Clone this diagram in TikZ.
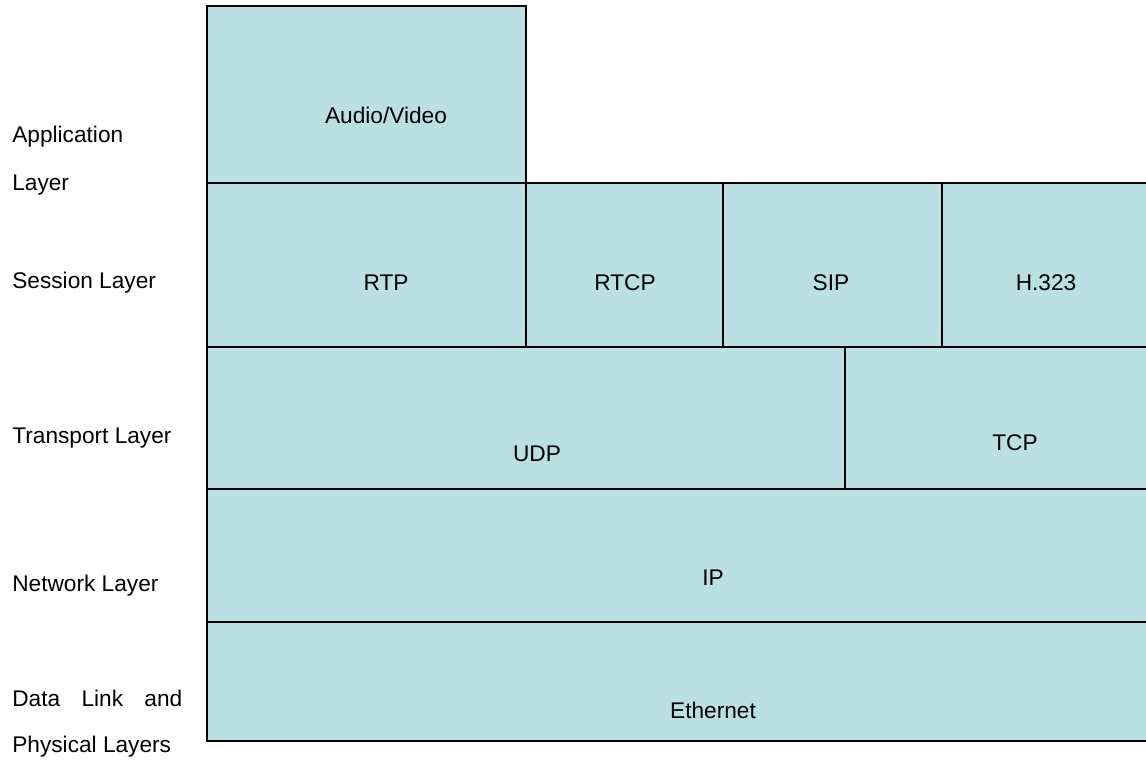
\documentclass[tikz,border=0pt]{standalone}
\usepackage{fontspec}
\setmainfont{Liberation Sans}
\definecolor{layerfill}{RGB}{186,224,227}

\begin{document}
\begin{tikzpicture}[x=0.02cm,y=-0.02cm,
                    box/.style={fill=layerfill,draw=black,line width=0.85pt},
                    txt/.style={font=\fontsize{12.9}{15}\selectfont,inner sep=0pt},
                    side/.style={txt,anchor=west}]
  \useasboundingbox (0,0) rectangle (1146,760);
  \clip (0,0) rectangle (1146,760);
  % protocol stack
  \draw[box] (207,6) rectangle (526,183);
  \draw[box] (207,183) rectangle (526,347);
  \draw[box] (526,183) rectangle (723,347);
  \draw[box] (723,183) rectangle (942,347);
  \draw[box] (942,183) rectangle (1170,347);
  \draw[box] (207,347) rectangle (845,489);
  \draw[box] (845,347) rectangle (1170,489);
  \draw[box] (207,489) rectangle (1170,622);
  \draw[box] (207,622) rectangle (1170,741);
  % names inside the boxes
  \node[txt] (av)   at (386,115) {Audio/Video};
  \node[txt] (rtp)  at (386,283) {RTP};
  \node[txt] (rtcp) at (625,283) {RTCP};
  \node[txt] (sip)  at (831,283) {SIP};
  \node[txt] (h323) at (1046,283) {H.323};
  \node[txt] (udp)  at (537,454) {UDP};
  \node[txt] (tcp)  at (1015,443) {TCP};
  \node[txt] (ip)   at (713,578) {IP};
  \node[txt] (eth)  at (713,710) {Ethernet};
  % layer names on the left
  \node[side] (app1)  at (12,137) {Application};
  \node[side] (app2)  at (12,185) {Layer};
  \node[side] (sess)  at (12,283) {Session Layer};
  \node[side] (trans) at (12,438) {Transport Layer};
  \node[side] (net)   at (12,586) {Network Layer};
  \node[side] (dl1)   at (12,698) {\makebox[3.4cm][s]{Data Link and}};
  \node[side] (dl2)   at (12,747) {Physical Layers};
\end{tikzpicture}
\end{document}
